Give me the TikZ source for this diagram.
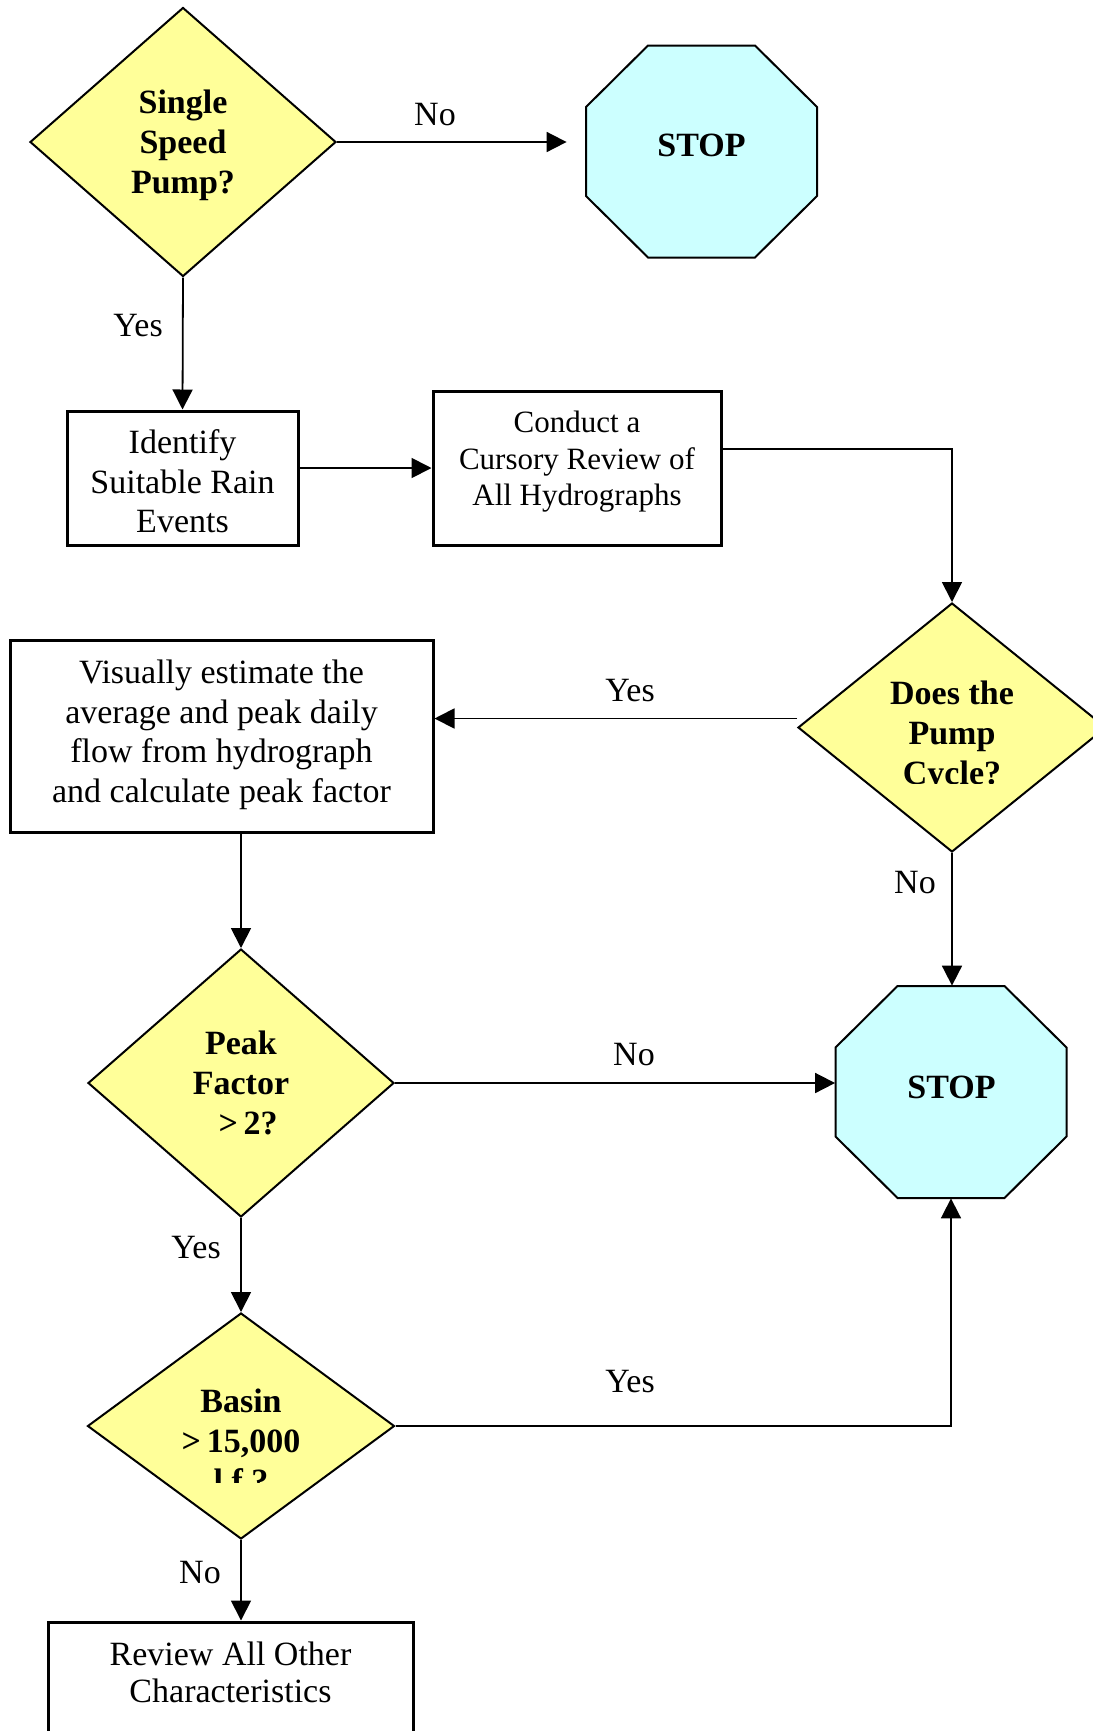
\documentclass[tikz,border=0pt]{standalone}
\usepackage{fontspec}
\setmainfont{Liberation Serif}
\usetikzlibrary{shapes.geometric,arrows.meta,calc}
\definecolor{dyellow}{HTML}{FFFF99}
\definecolor{scyan}{HTML}{CCFFFF}
\begin{document}
\begin{tikzpicture}[x=0.5pt,y=-0.5pt,
  dia/.style={diamond, draw, line width=1pt, fill=dyellow, inner sep=0pt},
  btxt/.style={align=center, inner sep=0pt, font=\bfseries\fontsize{17}{20}\selectfont},
  boxnode/.style={rectangle, draw, line width=1.5pt, inner sep=0pt},
  txt/.style={align=center, inner sep=0pt, font=\fontsize{17}{19.75}\selectfont},
  stxt/.style={align=center, inner sep=0pt, font=\fontsize{15.5}{18.25}\selectfont},
  lbl/.style={inner sep=0pt, font=\fontsize{17}{19}\selectfont},
  conn/.style={line width=0.9pt, -{Triangle[length=10pt,width=10pt]}},
  octo/.style={draw, line width=1pt, fill=scyan},
  octnode/.style={minimum width=115.5pt, minimum height=106pt, inner sep=0pt}
]
\useasboundingbox (0,0) rectangle (1093,1731);
\clip (0,0) rectangle (1093,1731);

% ---------- Single speed pump ----------
\node[dia, minimum width=153pt, minimum height=134.5pt] (d1) at (183,142) {};
\node[btxt] at (183,145) {Single\\Speed\\Pump?};

% ---------- STOP 1 ----------
\coordinate (s1c) at (701.5,151.5);
\draw[octo] ($(s1c)+(-53.5,-106)$) -- ($(s1c)+(53.5,-106)$) -- ($(s1c)+(115.5,-44.5)$)
  -- ($(s1c)+(115.5,44.5)$) -- ($(s1c)+(53.5,106)$) -- ($(s1c)+(-53.5,106)$)
  -- ($(s1c)+(-115.5,44.5)$) -- ($(s1c)+(-115.5,-44.5)$) -- cycle;
\node[octnode] (stop1) at (s1c) {};
\node[btxt] at (701.5,145) {STOP};

% ---------- Identify ----------
\node[boxnode, minimum width=115.5pt, minimum height=67pt] (b1) at (182.5,478) {};
\node[txt] at (182.5,481.5) {Identify\\Suitable Rain\\Events};

% ---------- Conduct ----------
\node[boxnode, minimum width=144pt, minimum height=77pt] (b2) at (577,468) {};
\node[stxt] at (577,462) {Conduct a\\Cursory Review of\\All Hydrographs};
\coordinate (b2out) at (721,449);

% ---------- Does the pump cycle ----------
\node[dia, minimum width=154pt, minimum height=124.5pt] (d2) at (952,727.5) {};
\begin{scope}
\clip (800,600) rectangle (1093,783);
\node[btxt] at (952,736) {Does the\\Pump\\Cycle?};
\end{scope}

% ---------- Visually ----------
\node[boxnode, minimum width=211.5pt, minimum height=96pt] (b3) at (221.5,736) {};
\node[txt] at (221.5,735) {Visually estimate the\\average and peak daily\\flow from hydrograph\\and calculate peak factor};

% ---------- Peak factor ----------
\node[dia, minimum width=153pt, minimum height=134pt] (d3) at (241,1083) {};
\node[btxt] at (241,1082.5) {Peak\\Factor\\\ \,{>}\,2?};

% ---------- STOP 2 ----------
\coordinate (s2c) at (951,1092);
\draw[octo] ($(s2c)+(-53.5,-106)$) -- ($(s2c)+(53.5,-106)$) -- ($(s2c)+(115.5,-44.5)$)
  -- ($(s2c)+(115.5,44.5)$) -- ($(s2c)+(53.5,106)$) -- ($(s2c)+(-53.5,106)$)
  -- ($(s2c)+(-115.5,44.5)$) -- ($(s2c)+(-115.5,-44.5)$) -- cycle;
\node[octnode] (stop2) at (s2c) {};
\node[btxt] at (951.5,1087) {STOP};

% ---------- Basin ----------
\node[dia, minimum width=153.5pt, minimum height=113pt] (d4) at (241,1426) {};
\begin{scope}
\clip (90,1320) rectangle (390,1482);
\node[btxt] at (241,1441) {Basin\\{>}\,15,000\\l.f.?};
\end{scope}

% ---------- Review ----------
\node[boxnode, minimum width=182.5pt, minimum height=75pt] (b4) at (230.5,1697) {};
\node[txt, font=\fontsize{17}{18.5}\selectfont] at (230.5,1672) {Review All Other\\Characteristics};

% ---------- connectors ----------
\draw[conn] (d1.east) -- ($(d1.east -| stop1.west)+(-19,0)$);
\node[lbl] at (435,115) {No};

\draw[conn] (d1.south) -- (b1.north);
\node[lbl] at (138,326) {Yes};

\draw[conn] (b2.west -| b1.east) -- (b2.west);

\draw[conn] (b2out) -| (d2.north);

\draw[conn] ($(d2.west)+(0,-9)$) -- ($(d2.west -| b3.east)+(0,-9)$);
\node[lbl] at (630,691) {Yes};

\draw[conn] (d3.north |- b3.south) -- (d3.north);

\draw[conn] (d2.south) -- (d2.south |- stop2.north);
\node[lbl] at (915,883) {No};

\draw[conn] (d3.east) -- (d3.east -| stop2.west);
\node[lbl] at (634,1055) {No};

\draw[conn] (d3.south) -- (d4.north);
\node[lbl] at (196,1248) {Yes};

\draw[conn] (d4.east) -| (stop2.south);
\node[lbl] at (630,1382) {Yes};

\draw[conn] (d4.south) -- (d4.south |- b4.north);
\node[lbl] at (200,1573) {No};
\end{tikzpicture}
\end{document}
